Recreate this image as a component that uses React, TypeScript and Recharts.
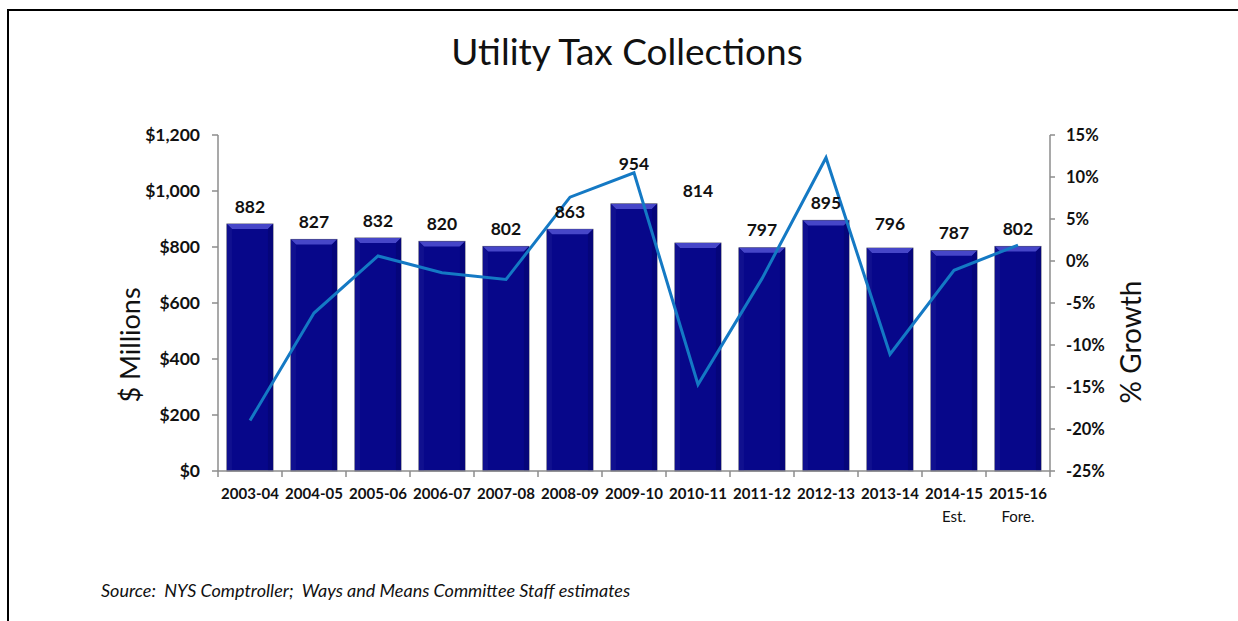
import React from 'react';
import { ComposedChart, Bar, Line, XAxis, YAxis } from 'recharts';

const years = ['2003-04', '2004-05', '2005-06', '2006-07', '2007-08', '2008-09', '2009-10', '2010-11', '2011-12', '2012-13', '2013-14', '2014-15', '2015-16'];
const yearNotes = ['', '', '', '', '', '', '', '', '', '', '', 'Est.', 'Fore.'];
const collections = [882, 827, 832, 820, 802, 863, 954, 814, 797, 895, 796, 787, 802];
const growth = [-19.0, -6.2, 0.6, -1.4, -2.2, 7.6, 10.5, -14.7, -2.1, 12.3, -11.1, -1.1, 1.9];
const leftTicks = [0, 200, 400, 600, 800, 1000, 1200];
const rightTicks = [-25, -20, -15, -10, -5, 0, 5, 10, 15];

// labels nudged upward where the growth line would cross them
const labelLift = [0, 0, 0, 0, 0, 0, 22, 35, 0, 0, 7, 0, 0];

const FONT = 'Lato, "Open Sans", sans-serif';
const AXIS = '#8c8c8c';

const data = years.map((y, i) => ({ year: y, note: yearNotes[i], value: collections[i], growth: growth[i] }));

function BevelBar(props: any) {
  const { x, y, width, height } = props;
  if (!height || height <= 0) return null;
  const b = 5;
  return (
    <g>
      <rect x={x} y={y} width={width} height={height} fill="#07078a" stroke="#4a4a6a" strokeWidth={1} />
      <polygon points={`${x},${y} ${x + width},${y} ${x + width - b},${y + b} ${x + b},${y + b}`} fill="#4646c8" />
      <polygon points={`${x},${y} ${x + b},${y + b} ${x + b},${y + height} ${x},${y + height}`} fill="#10108f" />
      <polygon points={`${x + width},${y} ${x + width - b},${y + b} ${x + width - b},${y + height} ${x + width},${y + height}`} fill="#05057a" />
    </g>
  );
}

function renderLabel(props: any) {
  const { x, y, width, value, index } = props;
  const lift = labelLift[index] || 0;
  return (
    <text x={x + width / 2} y={y - 18 - lift} textAnchor="middle" dominantBaseline="central"
      fontFamily={FONT} fontWeight={700} fontSize={17.5} fill="#111">
      {value}
    </text>
  );
}

function YearTick(props: any) {
  const { x, y, payload, index } = props;
  const half = 32;
  const note = yearNotes[index];
  return (
    <g>
      <line x1={x - half} y1={y} x2={x - half} y2={y + 6} stroke={AXIS} strokeWidth={1.5} />
      {index === years.length - 1 && (
        <line x1={x + half} y1={y} x2={x + half} y2={y + 6} stroke={AXIS} strokeWidth={1.5} />
      )}
      <text x={x} y={y + 28} textAnchor="middle" fontFamily={FONT} fontSize={15} fontWeight={700} fill="#111">
        {payload.value}
      </text>
      {note && (
        <text x={x} y={y + 51} textAnchor="middle" fontFamily={FONT} fontSize={15} fill="#111">
          {note}
        </text>
      )}
    </g>
  );
}

export default function App() {
  return (
    <div style={{ position: 'absolute', left: 0, top: 0, width: 1238, height: 621, background: '#fff', fontFamily: FONT }}>
      <div style={{ position: 'absolute', left: 7, top: 9, width: 1231, height: 2, background: '#000' }} />
      <div style={{ position: 'absolute', left: 7, top: 9, width: 2, height: 612, background: '#000' }} />
      <div style={{ position: 'absolute', left: 0, width: 1254, top: 28, textAlign: 'center', fontSize: 37, color: '#111' }}>
        Utility Tax Collections
      </div>
      <ComposedChart width={1238} height={621} data={data}
        margin={{ top: 135, right: 0, bottom: 90, left: 0 }} barCategoryGap="14%">
        <XAxis dataKey="year" xAxisId={0} height={60} interval={0} tick={<YearTick />}
          tickLine={false} tickSize={0} tickMargin={0} axisLine={{ stroke: AXIS, strokeWidth: 1.5 }} />
        <YAxis yAxisId="left" orientation="left" width={218} domain={[0, 1200]} ticks={leftTicks}
          interval={0} tickFormatter={(v: number) => '$' + v.toLocaleString('en-US')}
          tick={{ fontFamily: FONT, fontSize: 17.5, fontWeight: 700, fill: '#111' }}
          axisLine={{ stroke: AXIS, strokeWidth: 1.5 }} tickLine={{ stroke: AXIS, strokeWidth: 1.5 }} tickSize={6} tickMargin={12} />
        <YAxis yAxisId="right" orientation="right" width={188} domain={[-25, 15]} ticks={rightTicks}
          interval={0} tickFormatter={(v: number) => v + '%'}
          tick={{ fontFamily: FONT, fontSize: 16.5, fontWeight: 700, fill: '#111' }}
          axisLine={{ stroke: AXIS, strokeWidth: 1.5 }} tickLine={{ stroke: AXIS, strokeWidth: 1.5 }} tickSize={5} tickMargin={11} />
        <Bar yAxisId="left" dataKey="value" shape={<BevelBar />} label={renderLabel} isAnimationActive={false} />
        <Line yAxisId="right" dataKey="growth" type="linear" stroke="#1479c4" strokeWidth={3} dot={false}
          activeDot={false} isAnimationActive={false} />
      </ComposedChart>
      <div style={{ position: 'absolute', left: 129, top: 345, transform: 'translate(-50%, -50%) rotate(-90deg)', fontSize: 27, color: '#111', whiteSpace: 'nowrap' }}>
        $ Millions
      </div>
      <div style={{ position: 'absolute', left: 1130, top: 342, transform: 'translate(-50%, -50%) rotate(-90deg)', fontSize: 28, color: '#111', whiteSpace: 'nowrap' }}>
        % Growth
      </div>
      <div style={{ position: 'absolute', left: 101, top: 579, fontSize: 18, fontStyle: 'italic', color: '#111', whiteSpace: 'nowrap' }}>
        Source:&nbsp; NYS Comptroller;&nbsp; Ways and Means Committee Staff estimates
      </div>
    </div>
  );
}
